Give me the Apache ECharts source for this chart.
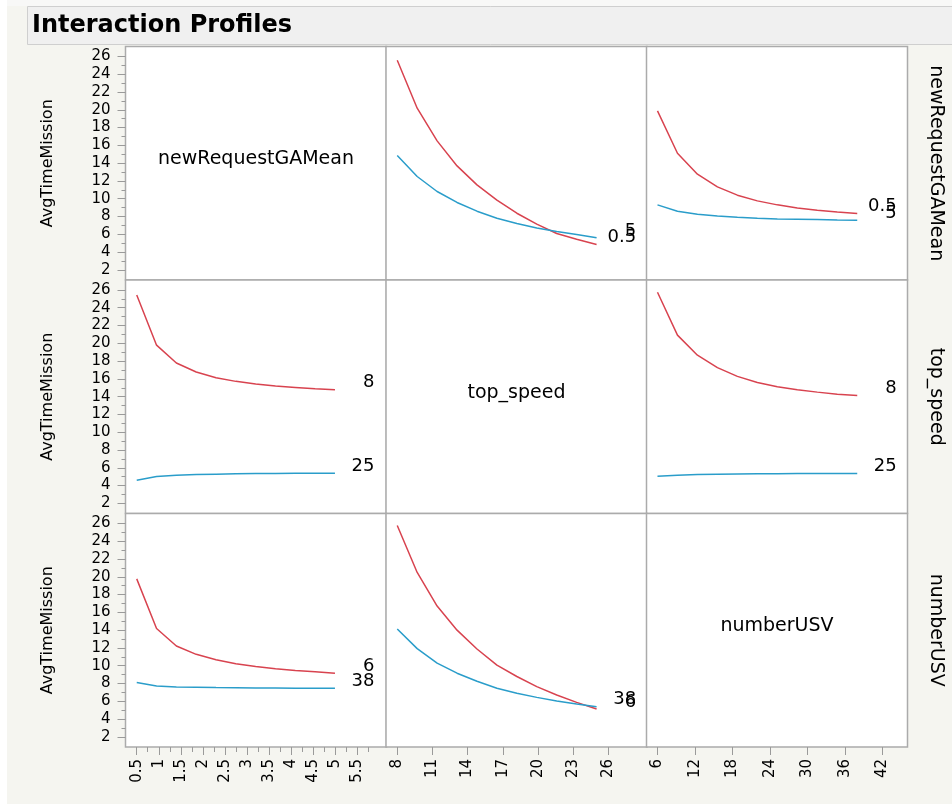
<!DOCTYPE html>
<html>
<head>
<meta charset="utf-8">
<title>Interaction Profiles</title>
<script src="https://cdn.jsdelivr.net/npm/echarts@6.0.0/dist/echarts.min.js"></script>
<style>
  html, body { margin: 0; padding: 0; background: #fff; }
  #chart { width: 952px; height: 804px; }
</style>
</head>
<body>
<div id="chart"></div>
<script>
// Níveis dos fatores (eixo x de cada coluna)
const xRequest = [0.5, 0.95, 1.4, 1.85, 2.3, 2.75, 3.2, 3.65, 4.1, 4.55, 5];
const xSpeed = [8, 9.7, 11.4, 13.1, 14.8, 16.5, 18.2, 19.9, 21.6, 23.3, 25];
const xUSV = [6, 9.2, 12.4, 15.6, 18.8, 22, 25.2, 28.4, 31.6, 34.8, 38];

const factorNames = ['newRequestGAMean', 'top_speed', 'numberUSV'];
const levelsRequest = ['0.5', '5'];
const levelsSpeed = ['8', '25'];
const levelsUSV = ['6', '38'];

// AvgTimeMission: linha (fator traçado) x coluna (fator no eixo x)
const requestBySpeedLow = [25.58, 20.18, 16.51, 13.69, 11.56, 9.84, 8.37, 7.14, 6.09, 5.45, 4.85];
const requestBySpeedHigh = [14.86, 12.5, 10.81, 9.58, 8.6, 7.81, 7.21, 6.72, 6.31, 5.98, 5.6];
const requestByUSVLow = [19.88, 15.12, 12.76, 11.33, 10.4, 9.76, 9.31, 8.97, 8.71, 8.52, 8.34];
const requestByUSVHigh = [9.31, 8.6, 8.26, 8.07, 7.92, 7.81, 7.73, 7.7, 7.67, 7.62, 7.59];
const speedByRequestLow = [25.44, 19.79, 17.79, 16.77, 16.13, 15.72, 15.42, 15.19, 15.04, 14.89, 14.78];
const speedByRequestHigh = [4.61, 5.02, 5.17, 5.24, 5.28, 5.32, 5.35, 5.37, 5.38, 5.39, 5.4];
const speedByUSVLow = [25.74, 20.92, 18.66, 17.26, 16.28, 15.6, 15.11, 14.77, 14.51, 14.28, 14.14];
const speedByUSVHigh = [5.06, 5.17, 5.24, 5.28, 5.3, 5.32, 5.34, 5.36, 5.36, 5.36, 5.36];
const usvByRequestLow = [19.77, 14.19, 12.22, 11.28, 10.68, 10.22, 9.92, 9.66, 9.47, 9.32, 9.16];
const usvByRequestHigh = [8.11, 7.73, 7.62, 7.58, 7.54, 7.52, 7.5, 7.49, 7.48, 7.47, 7.46];
const usvBySpeedLow = [25.77, 20.49, 16.71, 14.0, 11.88, 10.07, 8.79, 7.65, 6.71, 5.88, 5.13];
const usvBySpeedHigh = [14.14, 11.92, 10.29, 9.16, 8.25, 7.46, 6.9, 6.44, 6.03, 5.69, 5.39];

// Ticks
const yTicks = [2, 4, 6, 8, 10, 12, 14, 16, 18, 20, 22, 24, 26];
const yMinorTicks = [3, 5, 7, 9, 11, 13, 15, 17, 19, 21, 23, 25];
const xTicksRequest = [0.5, 1, 1.5, 2, 2.5, 3, 3.5, 4, 4.5, 5, 5.5];
const xMinorRequest = [0.75, 1.25, 1.75, 2.25, 2.75, 3.25, 3.75, 4.25, 4.75, 5.25, 5.75];
const xTicksSpeed = [8, 11, 14, 17, 20, 23, 26];
const xTicksUSV = [6, 12, 18, 24, 30, 36, 42];

// Layout
const colLeft = [125.5, 386, 646.5];
const rowTop = [46.5, 280, 513.5];
const cellW = 261;
const cellH = 233.5;
const xRanges = [[0.245, 6.17], [7.04, 29.3], [4.24, 46.05]];
const yRange = [0.86, 27.12];
const xValues = [xRequest, xSpeed, xUSV];
const xTicks = [xTicksRequest, xTicksSpeed, xTicksUSV];
const levels = [levelsRequest, levelsSpeed, levelsUSV];

const cores = { low: '#d8434f', high: '#2a9dca' };
const fonte = 'DejaVu Sans';

// células fora da diagonal: [linha][coluna] -> [baixo, alto]
const cells = [
  [null, [requestBySpeedLow, requestBySpeedHigh], [requestByUSVLow, requestByUSVHigh]],
  [[speedByRequestLow, speedByRequestHigh], null, [speedByUSVLow, speedByUSVHigh]],
  [[usvByRequestLow, usvByRequestHigh], [usvBySpeedLow, usvBySpeedHigh], null]
];

const grids = [], xAxes = [], yAxes = [], series = [], graphics = [];

for (let r = 0; r < 3; r++) {
  for (let c = 0; c < 3; c++) {
    const idx = r * 3 + c;
    grids.push({
      left: colLeft[c], top: rowTop[r], width: cellW, height: cellH,
      show: true, backgroundColor: '#ffffff', borderColor: '#ababab', borderWidth: 1.5,
      outerBoundsMode: 'none', containLabel: false
    });
    const bottomRow = r === 2;
    xAxes.push({
      type: 'value', gridIndex: idx, position: 'bottom',
      min: xRanges[c][0], max: xRanges[c][1],
      axisLine: { show: false, onZero: false },
      axisTick: { show: bottomRow, customValues: xTicks[c], length: 8, lineStyle: { color: '#9a9a9a', width: 1 } },
      axisLabel: { show: bottomRow, customValues: xTicks[c], rotate: 90, margin: 12, fontSize: 15, fontFamily: fonte, color: '#000' },
      splitLine: { show: false }
    });
    const leftCol = c === 0;
    yAxes.push({
      type: 'value', gridIndex: idx, position: 'left',
      min: yRange[0], max: yRange[1],
      name: leftCol ? 'AvgTimeMission' : '',
      nameLocation: 'middle', nameRotate: 90, nameGap: 70,
      nameTextStyle: { fontSize: 16, fontFamily: fonte, color: '#000' },
      axisLine: { show: false, onZero: false },
      axisTick: { show: leftCol, customValues: yTicks, length: 8, lineStyle: { color: '#9a9a9a', width: 1 } },
      axisLabel: { show: leftCol, customValues: yTicks, margin: 15, fontSize: 15, fontFamily: fonte, color: '#000' },
      splitLine: { show: false }
    });

    const cell = cells[r][c];
    if (!cell) {
      graphics.push({
        type: 'text', x: colLeft[c] + cellW / 2, y: rowTop[r] + cellH / 2 - 4, silent: true,
        style: { text: factorNames[r], font: '19px "' + fonte + '"', fill: '#000', align: 'center', verticalAlign: 'middle' }
      });
      continue;
    }
    ['low', 'high'].forEach((nivel, k) => {
      const xs = xValues[c];
      const ys = cell[k];
      const last = xs.length - 1;
      series.push({
        type: 'line', xAxisIndex: idx, yAxisIndex: idx,
        data: xs.map((x, i) => [x, ys[i]]),
        symbol: 'none', silent: true,
        lineStyle: { color: cores[nivel], width: 1.5 },
        itemStyle: { color: cores[nivel] },
        markPoint: {
          symbol: 'circle', symbolSize: 0, silent: true, animation: false,
          label: {
            show: true, position: 'inside', offset: [39.5, -7],
            align: 'right', verticalAlign: 'middle',
            fontSize: 18, fontFamily: fonte, color: '#000',
            formatter: p => p.name
          },
          data: [{ name: levels[r][k], coord: [xs[last], ys[last]] }]
        }
      });
    });
  }
}

// ticks menores
xAxes.push({
  type: 'value', gridIndex: 6, position: 'bottom',
  min: xRanges[0][0], max: xRanges[0][1],
  axisLine: { show: false, onZero: false },
  axisTick: { show: true, customValues: xMinorRequest, length: 5, lineStyle: { color: '#9a9a9a', width: 1 } },
  axisLabel: { show: false }, splitLine: { show: false }
});
for (let r = 0; r < 3; r++) {
  yAxes.push({
    type: 'value', gridIndex: r * 3, position: 'left',
    min: yRange[0], max: yRange[1],
    axisLine: { show: false, onZero: false },
    axisTick: { show: true, customValues: yMinorTicks, length: 4, lineStyle: { color: '#9a9a9a', width: 1 } },
    axisLabel: { show: false }, splitLine: { show: false }
  });
}

// rótulos à direita
for (let r = 0; r < 3; r++) {
  graphics.push({
    type: 'text', x: 936, y: rowTop[r] + cellH / 2, rotation: -Math.PI / 2, silent: true,
    style: { text: factorNames[r], font: '19px "' + fonte + '"', fill: '#000', align: 'center', verticalAlign: 'middle' }
  });
}

// faixa branca à esquerda, topo e barra do título
graphics.unshift(
  { type: 'rect', shape: { x: 0, y: 0, width: 7, height: 804 }, style: { fill: '#ffffff' }, silent: true },
  { type: 'rect', shape: { x: 7, y: 0, width: 945, height: 6 }, style: { fill: '#f8f8f7' }, silent: true },
  { type: 'rect', shape: { x: 27.5, y: 6.5, width: 940, height: 38 }, style: { fill: '#f0f0f0', stroke: '#cfcfcf', lineWidth: 1 }, silent: true },
  { type: 'text', x: 32, y: 26, silent: true,
    style: { text: 'Interaction Profiles', font: 'bold 24px "' + fonte + '"', fill: '#000', align: 'left', verticalAlign: 'middle' } }
);

const grafico = echarts.init(document.getElementById('chart'), null, { renderer: 'canvas' });
grafico.setOption({
  animation: false,
  backgroundColor: '#f5f5f0',
  textStyle: { fontFamily: fonte },
  grid: grids,
  xAxis: xAxes,
  yAxis: yAxes,
  series: series,
  graphic: graphics
});
</script>
</body>
</html>
